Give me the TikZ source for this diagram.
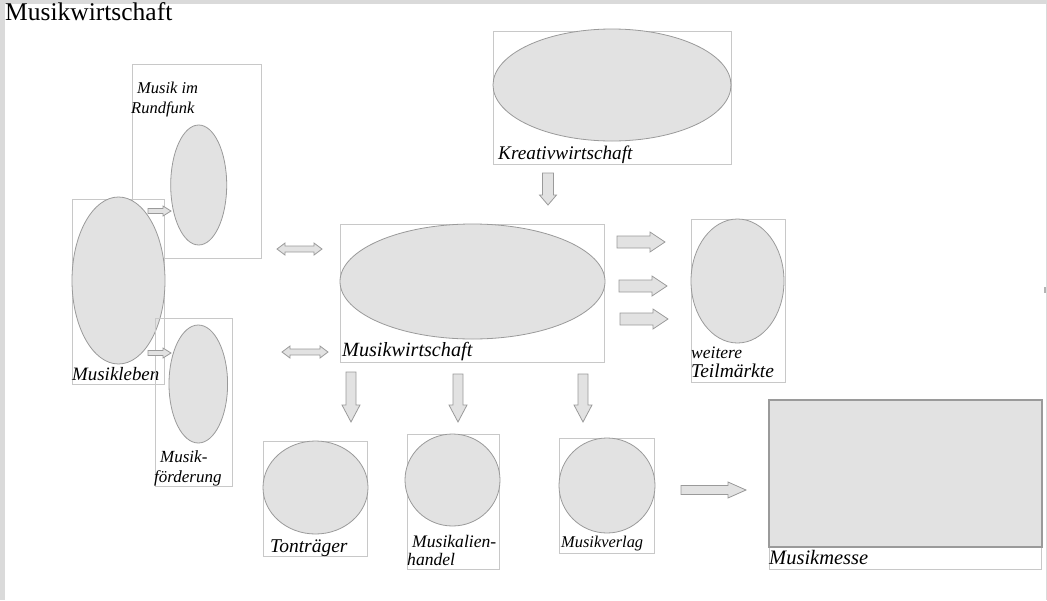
\documentclass[tikz,border=0pt]{standalone}
\usepackage{fontspec}
\setmainfont{Liberation Serif}
\usetikzlibrary{shapes.geometric}
\definecolor{shapefill}{HTML}{E2E2E2}
\definecolor{shapeline}{HTML}{9A9A9A}
\definecolor{boxline}{HTML}{C8C8C8}
\definecolor{framegray}{HTML}{DADADA}
\definecolor{tickgray}{HTML}{B4B4B4}
\tikzset{
  framebox/.style={draw=boxline, line width=0.8pt, rectangle, inner sep=0pt},
  blob/.style={draw=shapeline, fill=shapefill, line width=0.8pt, ellipse, inner sep=0pt},
  solidblock/.style={draw=shapeline, fill=shapefill, line width=1.2pt, rectangle, inner sep=0pt},
  lbl/.style={anchor=base west, inner sep=0pt, font=\itshape\fontsize{#1}{#1}\selectfont},
  arrowsty/.style={draw=shapeline, fill=shapefill, line width=0.8pt, line join=miter},
  pics/barrow/.style n args={4}{code={%
    \path[arrowsty] (0,{-#2}) -- ({#1-#4},{-#2}) -- ({#1-#4},{-#3}) -- (#1,0)
      -- ({#1-#4},#3) -- ({#1-#4},#2) -- (0,#2) -- cycle;}},
  pics/dbarrow/.style n args={4}{code={%
    \path[arrowsty] (0,0) -- (#4,{-#3}) -- (#4,{-#2}) -- ({#1-#4},{-#2}) -- ({#1-#4},{-#3})
      -- (#1,0) -- ({#1-#4},#3) -- ({#1-#4},#2) -- (#4,#2) -- (#4,#3) -- cycle;}}
}
\begin{document}
\begin{tikzpicture}[x=1pt,y=-1pt]
\useasboundingbox (0,0) rectangle (1047,600);
% page frame
\fill[framegray] (0,0) rectangle (1047,4);
\fill[framegray] (0,0) rectangle (5,600);
\fill[framegray] (1045.5,0) rectangle (1047,600);
\fill[tickgray] (1044,287) rectangle (1046,293);
% title
\node[anchor=base west, inner sep=0pt, font=\fontsize{25.5}{30}\selectfont] (title) at (5,20) {Musikwirtschaft};

% Musik im Rundfunk
\node[framebox, minimum width=129pt, minimum height=194pt] (rfbox) at (196.5,161) {};
\node[blob, minimum width=56pt, minimum height=120pt] (rfell) at (198.7,185) {};
\node[lbl=16.5] (rflab1) at (137,93) {Musik im};
\node[lbl=16.5] (rflab2) at (131,113) {Rundfunk};

% Musikleben
\node[framebox, minimum width=92pt, minimum height=185pt] (mlbox) at (118,291.5) {};
\node[blob, minimum width=93pt, minimum height=167pt] (mlell) at (118.5,280.5) {};
\node[lbl=18.9] (mllab) at (72,380) {Musikleben};

% Musikfoerderung
\node[framebox, minimum width=77pt, minimum height=168pt] (mfbox) at (193.5,402) {};
\node[blob, minimum width=58.6pt, minimum height=118pt] (mfell) at (198.3,384) {};
\node[lbl=17] (mflab1) at (160,462) {Musik-};
\node[lbl=17] (mflab2) at (154,482) {förderung};

% Kreativwirtschaft
\node[framebox, minimum width=238pt, minimum height=133pt] (kwbox) at (612,97.5) {};
\node[blob, minimum width=238pt, minimum height=112pt] (kwell) at (612,85) {};
\node[lbl=19.3] (kwlab) at (498,159) {Kreativwirtschaft};

% Musikwirtschaft
\node[framebox, minimum width=264pt, minimum height=138pt] (mwbox) at (472,293) {};
\node[blob, minimum width=265pt, minimum height=115pt] (mwell) at (472.5,281.5) {};
\node[lbl=20.2] (mwlab) at (342,356) {Musikwirtschaft};

% weitere Teilmaerkte
\node[framebox, minimum width=94pt, minimum height=163pt] (tmbox) at (738,300.5) {};
\node[blob, minimum width=93pt, minimum height=124pt] (tmell) at (737.5,281) {};
\node[lbl=17.5] (tmlab1) at (691,358) {weitere};
\node[lbl=19.5] (tmlab2) at (691,377) {Teilmärkte};

% Tontraeger
\node[framebox, minimum width=104pt, minimum height=115pt] (ttbox) at (315,498.5) {};
\node[blob, minimum width=105pt, minimum height=93pt] (ttell) at (315.5,487.5) {};
\node[lbl=19.5] (ttlab) at (270,552) {Tonträger};

% Musikalienhandel
\node[framebox, minimum width=92pt, minimum height=135pt] (mhbox) at (453,501.5) {};
\node[blob, minimum width=95pt, minimum height=92pt] (mhell) at (452.5,480) {};
\node[lbl=17.6] (mhlab1) at (412,547) {Musikalien-};
\node[lbl=17.6] (mhlab2) at (407,565) {handel};

% Musikverlag
\node[framebox, minimum width=95pt, minimum height=115pt] (mvbox) at (606.5,495.5) {};
\node[blob, minimum width=96pt, minimum height=95pt] (mvell) at (607,485.5) {};
\node[lbl=16.4] (mvlab) at (561,547) {Musikverlag};

% Musikmesse
\node[framebox, minimum width=272pt, minimum height=169pt] (mmbox) at (905,484.5) {};
\node[solidblock, minimum width=273pt, minimum height=147pt] (mmrect) at (905.5,473.5) {};
\node[lbl=20.5] (mmlab) at (769,564) {Musikmesse};

% block arrows
\pic at (148,211) {barrow={23}{2.5}{5}{8}};
\pic at (148,353) {barrow={23}{2.5}{5}{8}};
\pic at (277,249) {dbarrow={45}{3}{6}{8}};
\pic at (282,352) {dbarrow={46}{3}{6}{8}};
\pic[rotate=-90] at (548,173) {barrow={32}{5.5}{8.5}{10}};
\pic at (617,242) {barrow={48}{6}{10}{15}};
\pic at (619,286) {barrow={48}{6}{10}{15}};
\pic at (620,319) {barrow={48}{6}{10}{15}};
\pic[rotate=-90] at (351,372) {barrow={50}{5}{9}{17}};
\pic[rotate=-90] at (458,374) {barrow={48}{5}{9}{17}};
\pic[rotate=-90] at (583,374) {barrow={48}{5}{9}{17}};
\pic at (681,490) {barrow={65}{4.5}{8}{18}};
\end{tikzpicture}
\end{document}
